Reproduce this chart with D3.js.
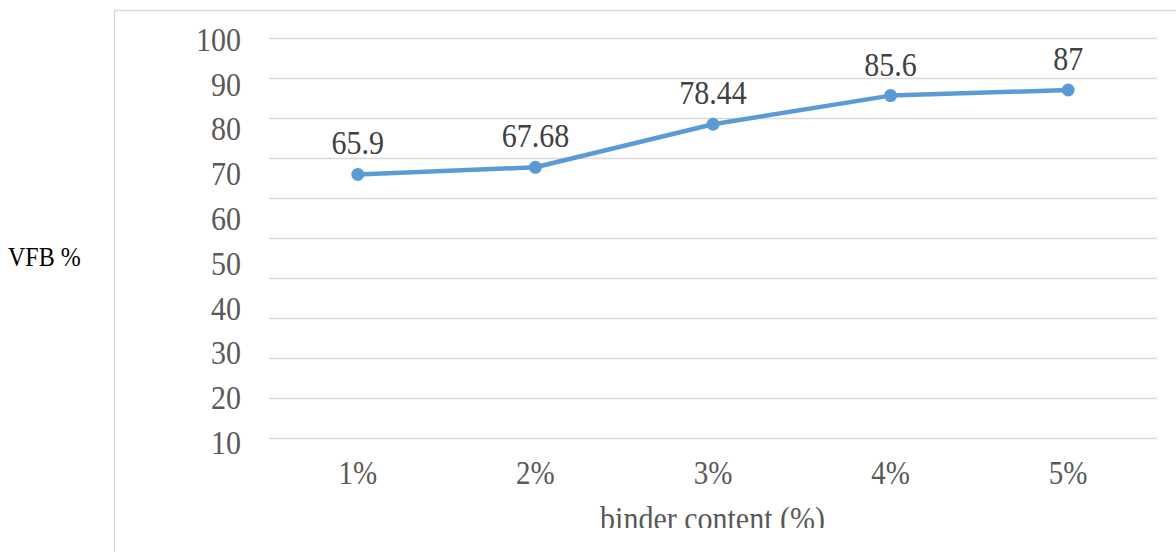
<!DOCTYPE html>
<html>
<head>
<script src="https://cdn.jsdelivr.net/npm/d3@7"></script>
<style>
body { margin: 0; background: #fff; }
</style>
</head>
<body>
<svg id="chart"></svg>
<script>
const width = 1176, height = 552;
const FONT = '"Liberation Serif", "DejaVu Serif", "Times New Roman", serif';
const STRETCH = 1.13; // the source text is a little taller than wide

// data
const categories = ['1%', '2%', '3%', '4%', '5%'];
const vfb = [65.9, 67.68, 78.44, 85.6, 87];
const gridValues = [0, 10, 20, 30, 40, 50, 60, 70, 80, 90, 100];
const tickLabels = [10, 20, 30, 40, 50, 60, 70, 80, 90, 100];
const yTitle = 'VFB %';
const xTitle = 'binder content (%)';

const svg = d3.select('#chart')
    .attr('width', width)
    .attr('height', height)
    .style('font-family', FONT);

// clip the bottom so the axis title is cut like the source
svg.append('defs').append('clipPath').attr('id', 'cut')
    .append('rect').attr('x', 0).attr('y', 0).attr('width', width).attr('height', 528);

// plot frame (runs off the right and bottom edge)
svg.append('path')
    .attr('d', 'M114.5,' + height + 'V10.5H' + width)
    .attr('fill', 'none')
    .attr('stroke', '#d9d9d9')
    .attr('stroke-width', 1.3);

const x = d3.scalePoint()
    .domain(categories)
    .range([269, 1157])
    .padding(0.5);

const y = d3.scaleLinear()
    .domain([0, 100])
    .range([438, 38]);

// tick labels in the source sit on their own (stretched) spacing
const yLabel = d3.scaleLinear()
    .domain([10, 100])
    .range([442, 39]);

const place = (px, py) => `translate(${px},${py}) scale(1,${STRETCH})`;

// gridlines
svg.append('g').selectAll('line')
    .data(gridValues)
    .join('line')
    .attr('x1', 269)
    .attr('x2', 1157)
    .attr('y1', d => y(d) + 0.5)
    .attr('y2', d => y(d) + 0.5)
    .attr('stroke', '#d9d9d9')
    .attr('stroke-width', 1.3);

// y tick labels
svg.append('g').selectAll('text')
    .data(tickLabels)
    .join('text')
    .attr('font-family', FONT)
    .attr('transform', d => place(241, yLabel(d)))
    .attr('dy', '0.35em')
    .attr('text-anchor', 'end')
    .attr('font-size', 30)
    .attr('fill', '#595959')
    .text(d => d);

// x tick labels
svg.append('g').selectAll('text')
    .data(categories)
    .join('text')
    .attr('font-family', FONT)
    .attr('transform', d => place(x(d), 484))
    .attr('text-anchor', 'middle')
    .attr('font-size', 29)
    .attr('fill', '#595959')
    .text(d => d);

// axis titles
svg.append('text')
    .attr('font-family', FONT)
    .attr('transform', place(8, 266))
    .attr('font-size', 24)
    .attr('fill', '#000')
    .text(yTitle);

svg.append('g')
    .attr('clip-path', 'url(#cut)')
    .append('text')
    .attr('font-family', FONT)
    .attr('transform', place((595 + 830) / 2, 530))
    .attr('text-anchor', 'middle')
    .attr('font-size', 30)
    .attr('fill', '#595959')
    .text(xTitle);

// series
const points = categories.map((c, i) => ({ cat: c, v: vfb[i] }));

svg.append('path')
    .datum(points)
    .attr('fill', 'none')
    .attr('stroke', '#5b9bd5')
    .attr('stroke-width', 4.5)
    .attr('stroke-linejoin', 'round')
    .attr('d', d3.line().x(d => x(d.cat)).y(d => y(d.v)));

svg.append('g').selectAll('circle')
    .data(points)
    .join('circle')
    .attr('cx', d => x(d.cat))
    .attr('cy', d => y(d.v))
    .attr('r', 6.5)
    .attr('fill', '#5b9bd5');

// data labels
svg.append('g').selectAll('text')
    .data(points)
    .join('text')
    .attr('font-family', FONT)
    .attr('transform', d => place(x(d.cat), y(d.v) - 20))
    .attr('text-anchor', 'middle')
    .attr('font-size', 30)
    .attr('fill', '#404040')
    .text(d => d.v);
</script>
</body>
</html>
